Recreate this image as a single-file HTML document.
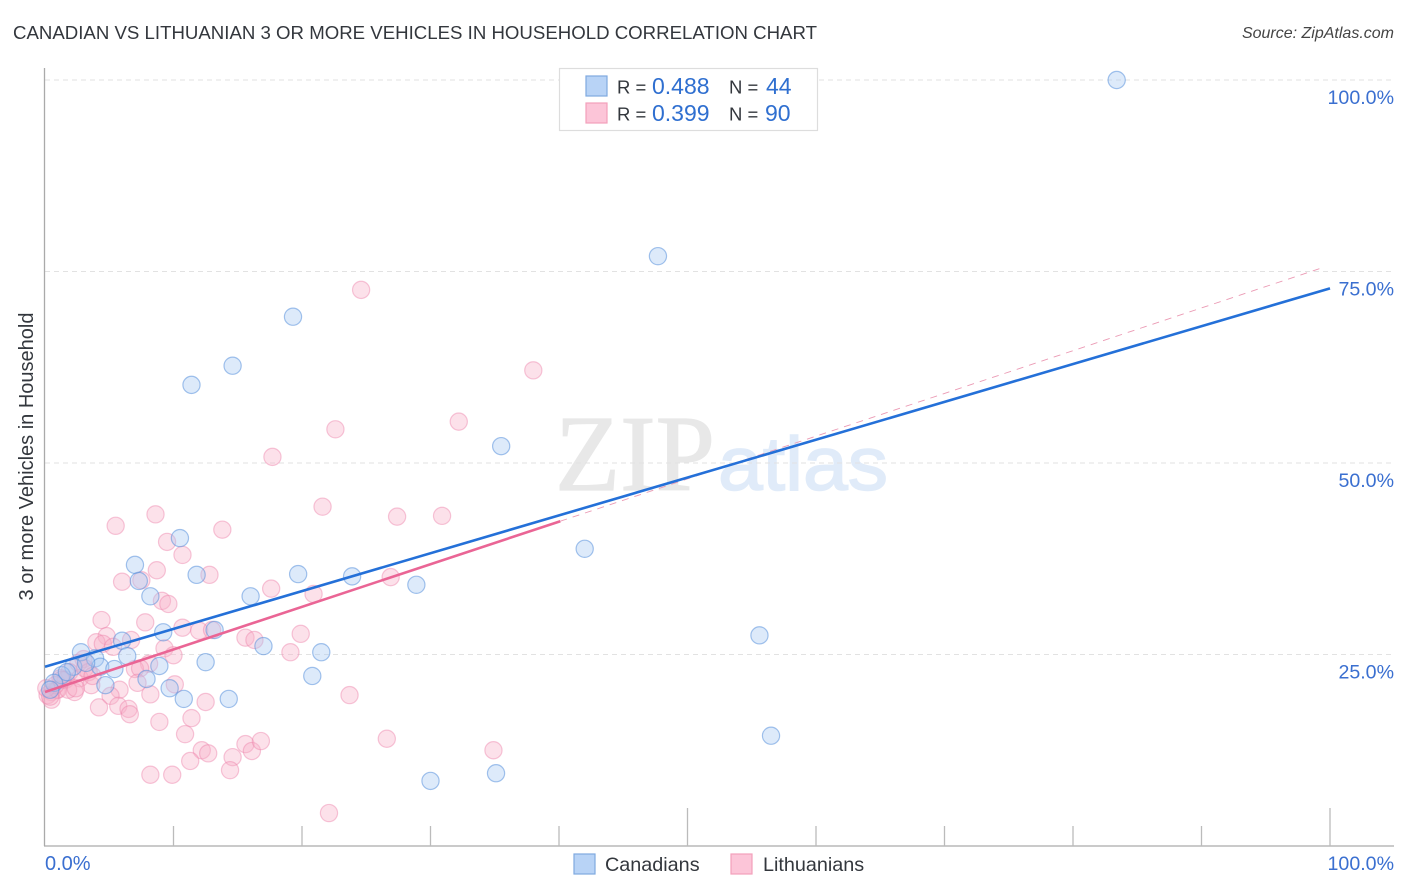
<!DOCTYPE html>
<html><head><meta charset="utf-8"><title>Canadian vs Lithuanian chart</title>
<style>
html,body{margin:0;padding:0;background:#fff;width:1406px;height:892px;overflow:hidden}
svg{display:block}
text{font-family:"Liberation Sans",sans-serif}
</style></head>
<body>
<svg id="chart" width="1406" height="892" viewBox="0 0 1406 892" xmlns="http://www.w3.org/2000/svg">
<rect width="1406" height="892" fill="#fff"/>
<text x="13" y="39" font-size="18.5" fill="#33373d" textLength="804" lengthAdjust="spacingAndGlyphs">CANADIAN VS LITHUANIAN 3 OR MORE VEHICLES IN HOUSEHOLD CORRELATION CHART</text>
<text x="1394" y="38" font-size="16" font-style="italic" fill="#444" text-anchor="end">Source: ZipAtlas.com</text>
<text x="555" y="490" font-size="108" fill="#e8e8e8" stroke="#e8e8e8" stroke-width="1.2" style="font-family:'Liberation Serif',serif" textLength="160" lengthAdjust="spacingAndGlyphs">ZIP</text>
<text x="718" y="490" font-size="76" fill="#e0ebf9" stroke="#e0ebf9" stroke-width="1.5" textLength="170" lengthAdjust="spacingAndGlyphs">atlas</text>
<g id="grid"></g>
<g id="axes"></g>
<g id="pinkPts"></g>
<g id="bluePts"></g>
<g id="trends"></g>
<text transform="translate(33,456.5) rotate(-90)" font-size="20" fill="#33373d" text-anchor="middle">3 or more Vehicles in Household</text>
<g>
<rect x="559.5" y="68.5" width="258" height="62" fill="#fff" stroke="#ddd" stroke-width="1.2"/>
<rect x="586" y="76" width="21" height="20" fill="#b8d3f6" stroke="#7fa9e0" stroke-width="1.2"/>
<rect x="586" y="103" width="21" height="20" fill="#fcc5d8" stroke="#f2a0bb" stroke-width="1.2"/>
<text x="617" y="93.5" font-size="18.5" fill="#33373d">R =</text>
<text x="652" y="94" font-size="23" fill="#2f6fd0">0.488</text>
<text x="729" y="93.5" font-size="18.5" fill="#33373d">N =</text>
<text x="766" y="94" font-size="23" fill="#2f6fd0">44</text>
<text x="617" y="120.5" font-size="18.5" fill="#33373d">R =</text>
<text x="652" y="121" font-size="23" fill="#2f6fd0">0.399</text>
<text x="729" y="120.5" font-size="18.5" fill="#33373d">N =</text>
<text x="765" y="121" font-size="23" fill="#2f6fd0">90</text>
</g>
<g>
<rect x="574" y="854" width="21" height="20" fill="#b8d3f6" stroke="#7fa9e0" stroke-width="1.2"/>
<text x="605" y="871" font-size="19.8" fill="#33373d">Canadians</text>
<rect x="731" y="854" width="21" height="20" fill="#fcc5d8" stroke="#f2a0bb" stroke-width="1.2"/>
<text x="763" y="871" font-size="19.8" fill="#33373d">Lithuanians</text>
</g>
</svg>
<script>
const yTicks = [25, 50, 75, 100];
const yTickLabels = ['25.0%', '50.0%', '75.0%', '100.0%'];
const xTicks = [10, 20, 30, 40, 50, 60, 70, 80, 90, 100];
const xMajorTicks = [50, 100];
const xEdgeLabels = ['0.0%', '100.0%'];
const canadiansX = [83.4,47.7,19.3,14.6,11.4,35.5,42.0,10.5,7.0,11.8,19.7,23.9,28.9,7.3,8.2,16.0,9.2,13.2,6.0,17.0,55.6,21.5,12.5,8.9,6.4,2.8,3.9,4.3,5.4,2.2,20.8,7.9,4.7,9.7,10.8,14.3,56.5,30.0,35.1,1.3,0.7,0.4,3.2,1.7];
const canadiansY = [100,77.0,69.1,62.7,60.2,52.2,38.8,40.2,36.7,35.4,35.5,35.2,34.1,34.6,32.6,32.6,27.9,28.2,26.8,26.1,27.5,25.3,24.0,23.5,24.8,25.3,24.5,23.4,23.1,23.4,22.2,21.8,21.0,20.6,19.2,19.2,14.4,8.5,9.5,22.3,21.3,20.4,23.9,22.7];
const lithuaniansX = [24.6,38.0,32.2,22.6,17.7,21.6,8.6,5.5,13.8,27.4,30.9,9.5,10.7,8.7,12.8,6.0,7.5,17.6,20.9,26.9,9.1,9.6,4.4,7.8,10.7,12.0,13.0,19.9,4.8,4.0,4.5,6.7,5.3,15.6,16.3,19.1,9.3,10.0,8.1,7.0,7.4,3.0,2.6,3.4,1.9,2.7,3.6,5.8,7.2,8.2,10.1,5.1,4.2,5.7,6.5,6.6,12.5,23.7,8.9,11.4,10.9,12.2,12.7,26.6,15.6,16.1,16.8,14.6,14.4,11.3,8.2,9.9,22.1,34.9,1.2,1.6,0.9,0.5,0.2,0.5,1.0,2.3,1.8,1.3,0.8,2.4,0.1,0.4,3.1,3.7];
const lithuaniansY = [72.6,62.1,55.4,54.4,50.8,44.3,43.3,41.8,41.3,43.0,43.1,39.7,38.0,36.0,35.4,34.5,34.7,33.6,32.9,35.1,32.0,31.6,29.5,29.2,28.5,28.1,28.2,27.7,27.4,26.6,26.4,26.9,26.0,27.2,26.9,25.3,25.8,24.9,23.8,23.1,23.2,24.4,23.9,22.7,22.7,21.9,21.0,20.4,21.3,19.8,21.1,19.6,18.1,18.3,17.9,17.2,18.8,19.7,16.2,16.7,14.6,12.5,12.1,14.0,13.3,12.4,13.7,11.6,9.9,11.1,9.3,9.3,4.3,12.5,21.9,21.7,20.4,20.1,19.7,19.1,20.4,20.1,20.4,21.7,21.0,20.6,20.6,19.5,23.2,22.2];
const canadiansTrend = [0, 23.4, 100, 72.8];
const lithuaniansTrend = [0, 20.1, 40.1, 42.4];
const lithuaniansDashed = [40.1, 42.4, 99.6, 75.6];

const NS = 'http://www.w3.org/2000/svg';
const sx = v => 45 + v * 12.85;
const sy = v => 846 - v * 7.66;
function mk(tag, parent, attrs) {
  const el = document.createElementNS(NS, tag);
  for (const k in attrs) el.setAttribute(k, attrs[k]);
  parent.appendChild(el);
  return el;
}
const grid = document.getElementById('grid');
const axes = document.getElementById('axes');
yTicks.forEach((t, i) => {
  const line = mk('line', grid, {x1: 45, x2: 1394, y1: sy(t), y2: sy(t), stroke: '#e2e2e2', 'stroke-width': 1, 'stroke-dasharray': '5 4'});
  
  
  const label = mk('text', axes, {x: 1394, y: sy(t) + 24, 'font-size': 19.6, fill: '#3a6fd0', 'text-anchor': 'end'});
  label.textContent = yTickLabels[i];
  
  
});
const yAxis = mk('line', axes, {x1: 44.5, x2: 44.5, y1: 68, y2: 846, stroke: '#aaa', 'stroke-width': 1.3});


const xAxis = mk('line', axes, {x1: 44, x2: 1394, y1: 846, y2: 846, stroke: '#aaa', 'stroke-width': 1.3});


xTicks.forEach(t => {
  const top = xMajorTicks.includes(t) ? 808 : 826;
  const tick = mk('line', axes, {x1: sx(t), x2: sx(t), y1: top, y2: 846, stroke: '#bbb', 'stroke-width': 1.3});
  
  
});
const x0 = mk('text', axes, {x: 45, y: 870, 'font-size': 20, fill: '#3a6fd0'});
x0.textContent = xEdgeLabels[0];


const x1 = mk('text', axes, {x: 1394, y: 870, 'font-size': 19.6, fill: '#3a6fd0', 'text-anchor': 'end'});
x1.textContent = xEdgeLabels[1];



const pinkG = document.getElementById('pinkPts');
lithuaniansX.forEach((v, i) => {
  const c = mk('circle', pinkG, {cx: sx(v), cy: sy(lithuaniansY[i]), r: 8.6, fill: 'rgba(248,175,200,0.38)', stroke: 'rgba(238,130,170,0.45)', 'stroke-width': 1.2});
  
  
});
const blueG = document.getElementById('bluePts');
canadiansX.forEach((v, i) => {
  const c = mk('circle', blueG, {cx: sx(v), cy: sy(canadiansY[i]), r: 8.6, fill: 'rgba(165,200,242,0.38)', stroke: 'rgba(90,145,220,0.55)', 'stroke-width': 1.2});
  
  
});
const trends = document.getElementById('trends');
const dashed = mk('line', trends, {x1: sx(lithuaniansDashed[0]), y1: sy(lithuaniansDashed[1]), x2: sx(lithuaniansDashed[2]), y2: sy(lithuaniansDashed[3]), stroke: '#eb9ab4', 'stroke-width': 0.9, 'stroke-dasharray': '7 6'});


const pinkLine = mk('line', trends, {x1: sx(lithuaniansTrend[0]), y1: sy(lithuaniansTrend[1]), x2: sx(lithuaniansTrend[2]), y2: sy(lithuaniansTrend[3]), stroke: '#ea6595', 'stroke-width': 2.6});


const blueLine = mk('line', trends, {x1: sx(canadiansTrend[0]), y1: sy(canadiansTrend[1]), x2: sx(canadiansTrend[2]), y2: sy(canadiansTrend[3]), stroke: '#2470d8', 'stroke-width': 2.6});


</script>
</body></html>
